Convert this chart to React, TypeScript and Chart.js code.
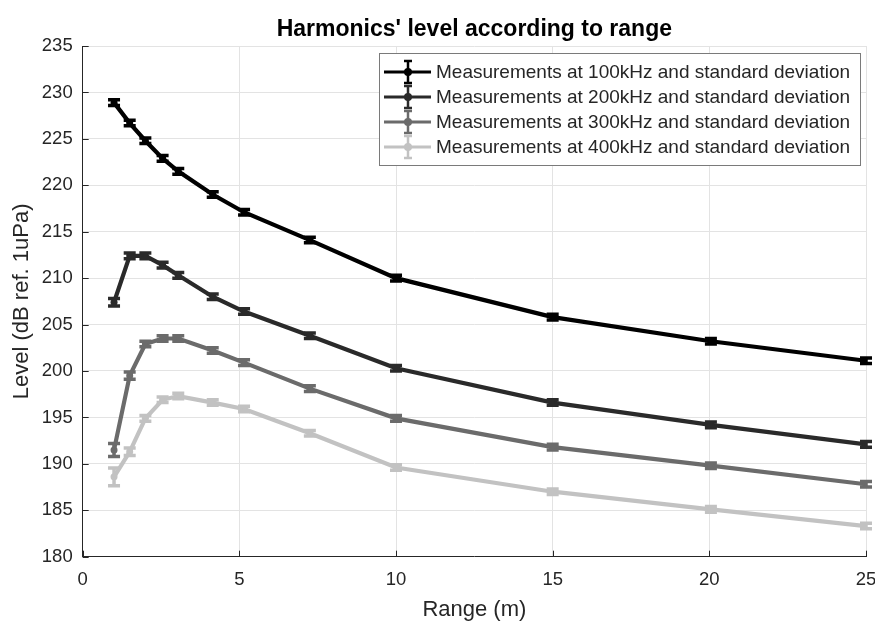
import React, { useEffect, useRef } from "react";
import { Chart, registerables } from "chart.js";

Chart.register(...registerables);

const chartTitle = "Harmonics' level according to range";
const xTitle = "Range (m)";
const yTitle = "Level (dB ref. 1uPa)";

const ranges = [1, 1.5, 2, 2.55, 3.05, 4.15, 5.15, 7.25, 10, 15, 20.05, 25];

const level100 = [228.9, 226.7, 224.8, 222.9, 221.5, 219.0, 217.1, 214.1, 210.0, 205.8, 203.2, 201.1];
const level200 = [207.4, 212.4, 212.4, 211.4, 210.3, 208.0, 206.4, 203.8, 200.3, 196.6, 194.2, 192.1];
const level300 = [191.5, 199.5, 202.9, 203.5, 203.5, 202.2, 200.9, 198.1, 194.9, 191.8, 189.8, 187.8];
const level400 = [188.6, 191.3, 194.9, 196.9, 197.3, 196.6, 195.9, 193.3, 189.6, 187.0, 185.1, 183.3];

const std100 = [0.3, 0.3, 0.3, 0.3, 0.3, 0.3, 0.3, 0.3, 0.3, 0.3, 0.3, 0.3];
const std200 = [0.4, 0.3, 0.3, 0.3, 0.3, 0.3, 0.3, 0.3, 0.3, 0.3, 0.3, 0.3];
const std300 = [0.7, 0.4, 0.3, 0.3, 0.3, 0.3, 0.3, 0.3, 0.3, 0.3, 0.3, 0.3];
const std400 = [0.95, 0.4, 0.3, 0.3, 0.3, 0.3, 0.3, 0.3, 0.3, 0.3, 0.3, 0.3];

const seriesLabels = [
  "Measurements at 100kHz and standard deviation",
  "Measurements at 200kHz and standard deviation",
  "Measurements at 300kHz and standard deviation",
  "Measurements at 400kHz and standard deviation",
];
const seriesColors = ["#000000", "#2a2a2a", "#6b6b6b", "#c2c2c2"];
const seriesLevels = [level100, level200, level300, level400];
const seriesStd = [std100, std200, std300, std400];

const xTicks = [0, 5, 10, 15, 20, 25];
const yMin = 180;
const yMax = 235;
const yStep = 5;

const FONT = "'Liberation Sans', Arial, Helvetica, sans-serif";
const TEXT = "#262626";

const errorBarPlugin = {
  id: "errorBars",
  afterDatasetsDraw(chart: any) {
    const ctx = chart.ctx;
    const xs = chart.scales.x;
    const ys = chart.scales.y;
    ctx.save();
    seriesLevels.forEach((levels, s) => {
      ctx.strokeStyle = seriesColors[s];
      ctx.fillStyle = seriesColors[s];
      ctx.lineWidth = 3.5;
      levels.forEach((v, i) => {
        const px = xs.getPixelForValue(ranges[i]);
        const top = ys.getPixelForValue(v + seriesStd[s][i]);
        const bot = ys.getPixelForValue(v - seriesStd[s][i]);
        ctx.beginPath();
        ctx.moveTo(px, top);
        ctx.lineTo(px, bot);
        ctx.moveTo(px - 6, top);
        ctx.lineTo(px + 6, top);
        ctx.moveTo(px - 6, bot);
        ctx.lineTo(px + 6, bot);
        ctx.stroke();
      });
    });
    ctx.restore();
  },
};

const decorPlugin = {
  id: "decor",
  afterDraw(chart: any) {
    const ctx = chart.ctx;
    const area = chart.chartArea;
    const xs = chart.scales.x;
    const ys = chart.scales.y;
    ctx.save();
    // inner ticks
    ctx.strokeStyle = TEXT;
    ctx.lineWidth = 1;
    ctx.beginPath();
    xTicks.forEach((t) => {
      const px = Math.round(xs.getPixelForValue(t)) + 0.5;
      ctx.moveTo(px, area.bottom);
      ctx.lineTo(px, area.bottom - 6);
    });
    for (let v = yMin; v <= yMax; v += yStep) {
      const py = Math.round(ys.getPixelForValue(v)) + 0.5;
      ctx.moveTo(area.left, py);
      ctx.lineTo(area.left + 6, py);
    }
    ctx.stroke();

    // title
    ctx.fillStyle = "#000";
    ctx.font = `bold 23px ${FONT}`;
    ctx.textAlign = "center";
    ctx.textBaseline = "middle";
    ctx.fillText(chartTitle, (area.left + area.right) / 2, 30);

    // legend
    const boxRight = area.right - 6;
    const boxLeft = boxRight - 481;
    const boxTop = area.top + 7;
    const rowH = 25;
    const boxH = 112;
    ctx.fillStyle = "#ffffff";
    ctx.fillRect(boxLeft, boxTop, boxRight - boxLeft, boxH);
    ctx.strokeStyle = "#7a7a7a";
    ctx.lineWidth = 1;
    ctx.strokeRect(boxLeft + 0.5, boxTop + 0.5, boxRight - boxLeft, boxH);
    ctx.font = `19px ${FONT}`;
    ctx.textAlign = "left";
    ctx.textBaseline = "middle";
    seriesLabels.forEach((lab, s) => {
      const cy = boxTop + 19 + s * rowH;
      const c = seriesColors[s];
      ctx.strokeStyle = c;
      ctx.fillStyle = c;
      ctx.lineWidth = 3;
      ctx.beginPath();
      ctx.moveTo(boxLeft + 5, cy);
      ctx.lineTo(boxLeft + 52, cy);
      ctx.stroke();
      const mx = boxLeft + 29;
      ctx.lineWidth = 2.5;
      ctx.beginPath();
      ctx.moveTo(mx, cy - 11);
      ctx.lineTo(mx, cy + 11);
      ctx.moveTo(mx - 4, cy - 11);
      ctx.lineTo(mx + 4, cy - 11);
      ctx.moveTo(mx - 4, cy + 11);
      ctx.lineTo(mx + 4, cy + 11);
      ctx.stroke();
      ctx.beginPath();
      ctx.arc(mx, cy, 4, 0, Math.PI * 2);
      ctx.fill();
      ctx.fillStyle = TEXT;
      ctx.fillText(lab, boxLeft + 57, cy + 1);
    });
    ctx.restore();
  },
};

export default function App() {
  const ref = useRef<HTMLCanvasElement | null>(null);

  useEffect(() => {
    if (!ref.current) return;
    const datasets = seriesLevels.map((levels, s) => ({
      label: seriesLabels[s],
      data: levels.map((v, i) => ({ x: ranges[i], y: v })),
      borderColor: seriesColors[s],
      backgroundColor: seriesColors[s],
      borderWidth: 4.2,
      pointRadius: 3.5,
      pointBorderWidth: 0,
      pointBackgroundColor: seriesColors[s],
      tension: 0,
    }));
    const chart = new Chart(ref.current, {
      type: "line",
      data: { datasets },
      options: {
        animation: false,
        responsive: true,
        maintainAspectRatio: false,
        layout: { padding: { top: 46, right: 9, left: 9, bottom: 0 } },
        plugins: {
          legend: { display: false },
          title: { display: false },
          tooltip: { enabled: false },
        },
        scales: {
          x: {
            type: "linear",
            min: 0,
            max: 25,
            afterBuildTicks: (scale: any) => {
              scale.ticks = xTicks.map((v) => ({ value: v }));
            },
            afterFit: (scale: any) => {
              scale.height = 64.3;
              scale.paddingLeft = 0;
              scale.paddingRight = 0;
            },
            ticks: {
              color: TEXT,
              font: { family: FONT, size: 18.5 },
              padding: 12,
              maxRotation: 0,
            },
            grid: { color: "#e3e3e3", drawTicks: false },
            border: { color: TEXT, width: 1 },
            title: {
              display: true,
              text: xTitle,
              color: TEXT,
              font: { family: FONT, size: 22, lineHeight: 1.0 },
              padding: 0,
            },
          },
          y: {
            type: "linear",
            min: yMin,
            max: yMax,
            ticks: {
              stepSize: yStep,
              color: TEXT,
              font: { family: FONT, size: 18.5 },
              padding: 10,
            },
            afterFit: (scale: any) => {
              scale.width = 73.7;
              scale.paddingTop = 0;
              scale.paddingBottom = 0;
            },
            grid: { color: "#e3e3e3", drawTicks: false },
            border: { color: TEXT, width: 1 },
            title: {
              display: true,
              text: yTitle,
              color: TEXT,
              font: { family: FONT, size: 22 },
              padding: 0,
            },
          },
        },
      },
      plugins: [errorBarPlugin, decorPlugin],
    } as any);
    return () => chart.destroy();
  }, []);

  return (
    <div style={{ position: "fixed", left: 0, top: 0, width: 875, height: 621, background: "#fff" }}>
      <canvas ref={ref} />
    </div>
  );
}
